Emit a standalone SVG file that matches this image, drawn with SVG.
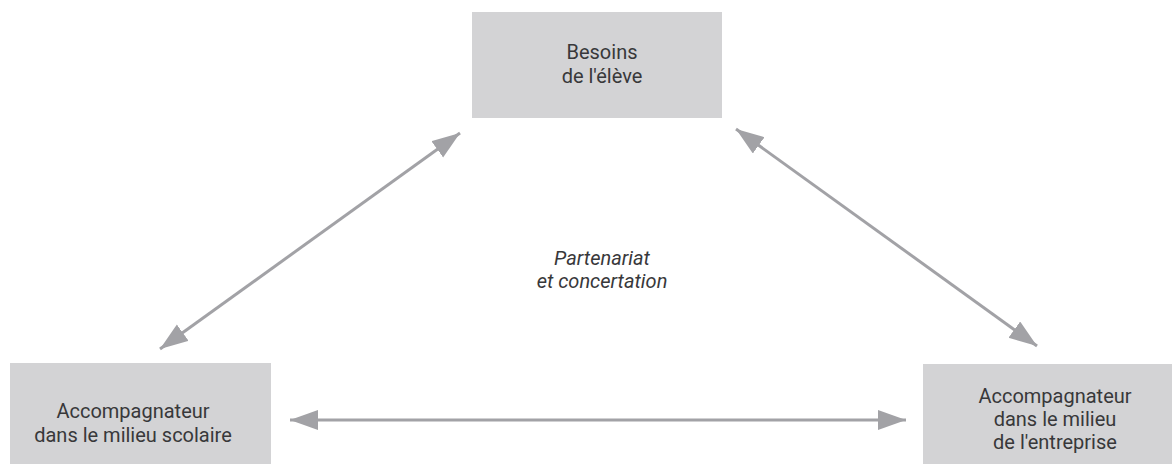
<svg xmlns="http://www.w3.org/2000/svg" width="1172" height="464" viewBox="0 0 1172 464">
  <style>
    .box { fill: #d3d3d5; }
    .label { font-family: Roboto, "Liberation Sans", sans-serif; font-size: 20px; fill: #38383a; text-anchor: middle; }
    .note { font-style: italic; }
    .link { stroke: #a2a2a6; stroke-width: 3; fill: none; marker-start: url(#head); marker-end: url(#head); }
  </style>
  <defs>
    <marker id="head" markerUnits="userSpaceOnUse" markerWidth="30" markerHeight="22" refX="28" refY="10" orient="auto-start-reverse">
      <path d="M0,0 L28,10 L0,20 Z" fill="#a2a2a6"/>
    </marker>
  </defs>
  <rect width="1172" height="464" fill="#ffffff"/>

  <g id="connectors">
    <line class="link" x1="160" y1="349" x2="460" y2="133"/>
    <line class="link" x1="736" y1="129" x2="1037" y2="346"/>
    <line class="link" x1="290" y1="420" x2="906" y2="420"/>
  </g>

  <g id="besoins">
    <rect class="box" x="472" y="12" width="250" height="106"/>
    <text class="label" x="602" y="59">Besoins</text>
    <text class="label" x="602" y="83">de l'élève</text>
  </g>

  <g id="scolaire">
    <rect class="box" x="10" y="363" width="261" height="101"/>
    <text class="label" x="133" y="418">Accompagnateur</text>
    <text class="label" x="133" y="442">dans le milieu scolaire</text>
  </g>

  <g id="entreprise">
    <rect class="box" x="923" y="364" width="249" height="100"/>
    <text class="label" x="1055" y="403">Accompagnateur</text>
    <text class="label" x="1055" y="426">dans le milieu</text>
    <text class="label" x="1055" y="449">de l'entreprise</text>
  </g>

  <g id="partenariat">
    <text class="label note" x="602" y="265">Partenariat</text>
    <text class="label note" x="602" y="288">et concertation</text>
  </g>
</svg>
